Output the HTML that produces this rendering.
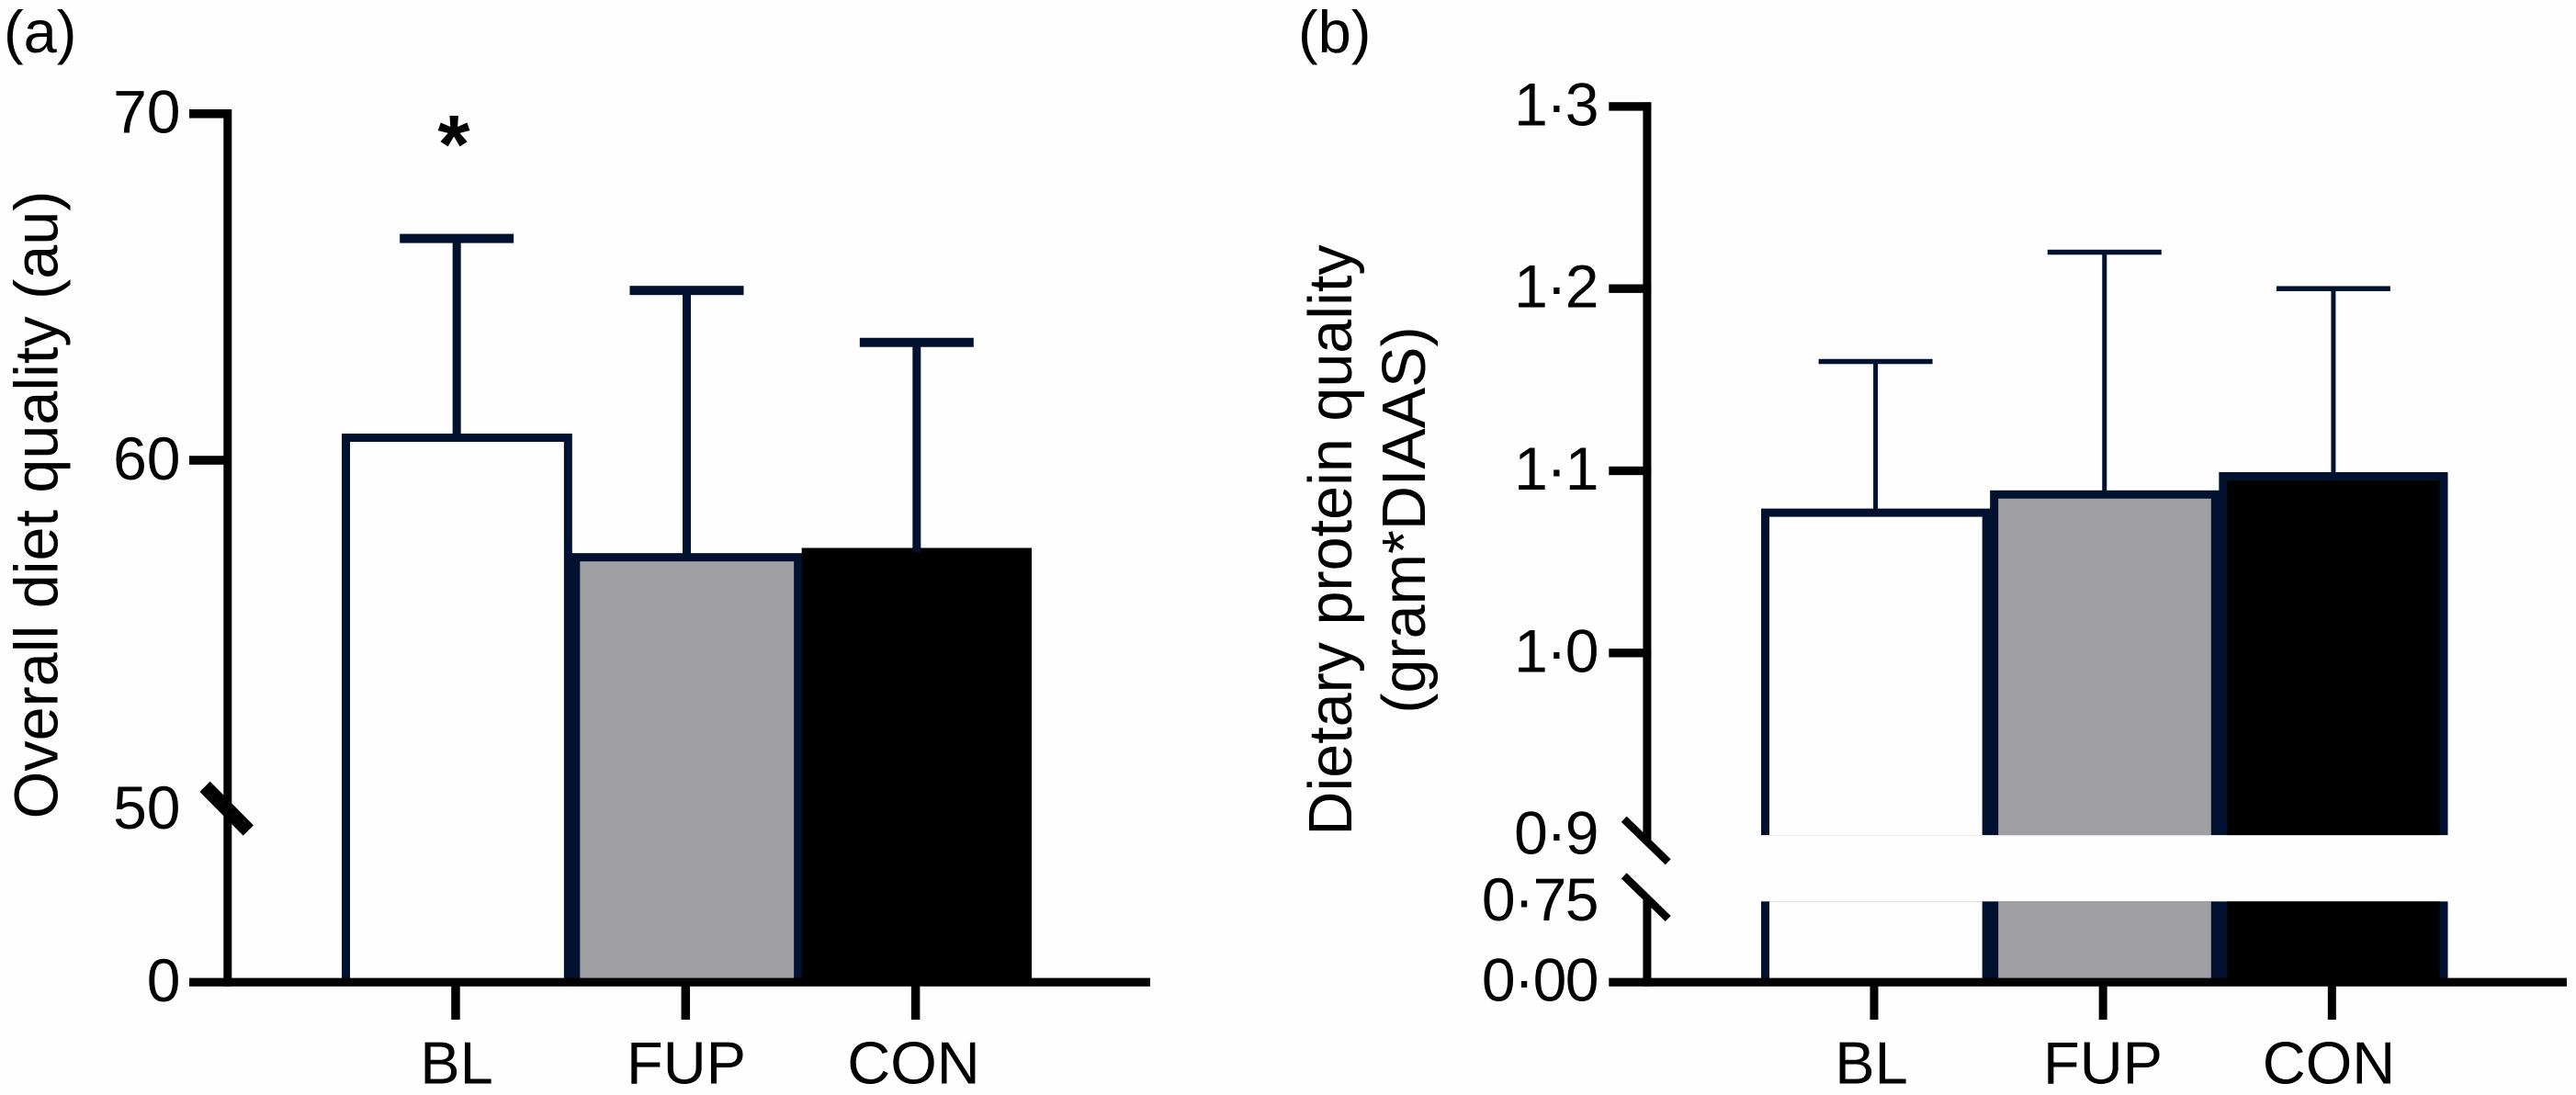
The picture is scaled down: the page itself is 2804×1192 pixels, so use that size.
<!DOCTYPE html>
<html lang="en">
<head>
<meta charset="utf-8">
<title>Diet quality charts</title>
<style>
html,body{margin:0;padding:0;background:#fefefe;}
svg{display:block;}
text{font-family:"Liberation Sans",sans-serif;fill:#000;}
</style>
</head>
<body>
<svg id="chart" xmlns="http://www.w3.org/2000/svg" width="2804" height="1192" viewBox="0 0 2804 1192">
  <rect x="0" y="0" width="2804" height="1192" fill="#fefefe"/>
  <g id="panelA"></g>
  <g id="panelB"></g>
</svg>
<script>
const categories = ['BL', 'FUP', 'CON'];
const aMeans = [60.65, 57.2, 57.35];
const aErrorTops = [66.4, 64.9, 63.4];
const aTickValues = [0, 50, 60, 70];
const aTickLabels = ['0', '50', '60', '70'];
const bMeans = [1.077, 1.087, 1.097];
const bErrorTops = [1.16, 1.22, 1.20];
const bTickValues = [0, 0.75, 0.9, 1.0, 1.1, 1.2, 1.3];
const bTickLabels = ['0\u00B700', '0\u00B775', '0\u00B79', '1\u00B70', '1\u00B71', '1\u00B72', '1\u00B73'];

const NAVY = '#011231';
const GREY = '#a09fa3';
const SVGNS = 'http://www.w3.org/2000/svg';

function yA(v) {
  return v <= 50 ? 1069 - (v / 50) * 188 : 501 - (v - 60) * 37.72;
}
function yB(v) {
  return v <= 0.75 ? 1069 - (v / 0.75) * 87.7 : 710.8 - (v - 1) * 1983;
}
function bandA(i) { return 372 + i * 250.33; }
function bandB(i) { return 1917 + i * 249.17; }
const bandWidthA = 250.33;
const bandWidthB = 249.17;

function make(parent, tag, attrs, text) {
  const el = document.createElementNS(SVGNS, tag);
  for (const k in attrs) el.setAttribute(k, attrs[k]);
  if (text !== undefined) el.textContent = text;
  parent.appendChild(el);
  return el;
}

function drawBar(parent, x, w, top, bottom, fill, border, gap, name) {
  const bw = 9;
  const g = make(parent, 'g', {});
  
  
  if (gap) {
    make(g, 'rect', { x: x, y: top, width: w, height: gap[0] - top, fill: border });
    make(g, 'rect', { x: x + bw, y: top + bw, width: w - 2 * bw, height: gap[0] - top - bw, fill: fill });
    make(g, 'rect', { x: x, y: gap[1], width: w, height: bottom - gap[1], fill: border });
    make(g, 'rect', { x: x + bw, y: gap[1], width: w - 2 * bw, height: bottom - gap[1], fill: fill });
  } else {
    make(g, 'rect', { x: x, y: top, width: w, height: bottom - top, fill: border });
    make(g, 'rect', { x: x + bw, y: top + bw, width: w - 2 * bw, height: bottom - top - bw, fill: fill });
  }
}

function drawError(parent, cx, yTop, yBase, stemW, capH, name) {
  const g = make(parent, 'g', {});
  
  
  make(g, 'rect', { x: cx - stemW / 2, y: yTop, width: stemW, height: yBase - yTop, fill: NAVY });
  make(g, 'rect', { x: cx - 62, y: yTop - capH / 2, width: 124, height: capH, fill: NAVY });
}

function drawXTick(parent, cx, w, label, textX, name) {
  const t = make(parent, 'rect', { x: cx - w / 2, y: 1069, width: w, height: 41, fill: '#000' });
  
  
  const l = make(parent, 'text', { x: textX, y: 1179.5, 'text-anchor': 'middle', 'font-size': 65 }, label);
  
  
}

function drawLine(parent, x1, y1, x2, y2, sw, name) {
  const l = make(parent, 'line', { x1: x1, y1: y1, x2: x2, y2: y2, stroke: '#000', 'stroke-width': sw });
  
  
}

/* ---------- Panel A ---------- */
const pa = document.getElementById('panelA');
const aFills = ['#fefefe', GREY, '#000'];
const aBorders = [NAVY, NAVY, '#000'];
const aLabelX = [497, 747, 994.5];

const aLetter = make(pa, 'text', { x: 4, y: 57, 'font-size': 65 }, '(a)');



categories.forEach(function (c, i) {
  const top = yA(aMeans[i]) - 4.5;
  drawBar(pa, bandA(i), bandWidthA + (i < 2 ? 0.5 : 0), top, 1069, aFills[i], aBorders[i], null, 'panel-a-bar-' + c.toLowerCase());
});
categories.forEach(function (c, i) {
  const cx = bandA(i) + bandWidthA / 2;
  drawError(pa, cx, yA(aErrorTops[i]), yA(aMeans[i]), 9, 10, 'panel-a-error-' + c.toLowerCase());
});

const aAxisY = make(pa, 'rect', { x: 243.3, y: 119, width: 9, height: 954.8, fill: '#000' });


const aAxisX = make(pa, 'rect', { x: 206, y: 1064.6, width: 1046, height: 9.2, fill: '#000' });



aTickValues.forEach(function (v, i) {
  const y = yA(v);
  if (v !== 0 && v !== 50) {
    const t = make(pa, 'rect', { x: 206, y: y - 4.8, width: 46, height: 9.6, fill: '#000' });
    
    
  }
  const l = make(pa, 'text', { x: 196.5, y: y + 20.8, 'text-anchor': 'end', 'font-size': 66 }, aTickLabels[i]);
  
  
});

drawLine(pa, 225.8, 853.5, 273.1, 901.2, 8, 'panel-a-axis-break-upper');
drawLine(pa, 220.2, 859.1, 267.5, 906.8, 8, 'panel-a-axis-break-lower');

categories.forEach(function (c, i) {
  const cx = bandA(i) + bandWidthA / 2 - 1.2;
  drawXTick(pa, cx, 9.5, c, aLabelX[i], 'panel-a-' + c.toLowerCase());
});

const aTitle = make(pa, 'text', { x: 0, y: 0, 'text-anchor': 'middle', 'font-size': 66.5, transform: 'translate(62.5 549.5) rotate(-90)' }, 'Overall diet quality (au)');



const star = make(pa, 'text', { x: 494, y: 188, 'text-anchor': 'middle', 'font-size': 90, 'font-weight': 'bold' }, '*');



/* ---------- Panel B ---------- */
const pb = document.getElementById('panelB');
const bFills = ['#fefefe', GREY, '#000'];
const bLabelX = [2037, 2289, 2535];
const bGap = [yB(0.9), yB(0.75)];

const bLetter = make(pb, 'text', { x: 1413, y: 57, 'font-size': 65 }, '(b)');



categories.forEach(function (c, i) {
  const top = yB(bMeans[i]) - 4.5;
  drawBar(pb, bandB(i), bandWidthB + (i < 2 ? 0.5 : 0), top, 1069, bFills[i], NAVY, bGap, 'panel-b-bar-' + c.toLowerCase());
});
categories.forEach(function (c, i) {
  const cx = bandB(i) + bandWidthB / 2;
  drawError(pb, cx, yB(bErrorTops[i]), yB(bMeans[i]), 5, 5.5, 'panel-b-error-' + c.toLowerCase());
});

const bAxisUpper = make(pb, 'rect', { x: 1788.4, y: 111.4, width: 9, height: bGap[0] + 6 - 111.4, fill: '#000' });


const bAxisLower = make(pb, 'rect', { x: 1788.4, y: bGap[1] - 4, width: 9, height: 1073.8 - bGap[1] + 4, fill: '#000' });


const bAxisX = make(pb, 'rect', { x: 1751.3, y: 1064.6, width: 1042.7, height: 9.2, fill: '#000' });



bTickValues.forEach(function (v, i) {
  const y = yB(v);
  if (v >= 1) {
    const t = make(pb, 'rect', { x: 1751.3, y: y - 4.7, width: 46, height: 9.4, fill: '#000' });
    
    
  }
  const l = make(pb, 'text', { x: 1739, y: y + 20.5, 'text-anchor': 'end', 'font-size': 66, 'letter-spacing': '-1.5px' }, bTickLabels[i]);
  
  
});

drawLine(pb, 1767.7, 891.7, 1815.7, 938.3, 8.5, 'panel-b-axis-break-upper');
drawLine(pb, 1767.7, 953.3, 1815.7, 1000, 8.5, 'panel-b-axis-break-lower');

categories.forEach(function (c, i) {
  const cx = bandB(i) + bandWidthB / 2 - 1.6;
  drawXTick(pb, cx, 9, c, bLabelX[i], 'panel-b-' + c.toLowerCase());
});

const bTitle1 = make(pb, 'text', { x: 0, y: 0, 'text-anchor': 'middle', 'font-size': 66.5, transform: 'translate(1471 588) rotate(-90)' }, 'Dietary protein quality');


const bTitle2 = make(pb, 'text', { x: 0, y: 0, 'text-anchor': 'middle', 'font-size': 66.5, transform: 'translate(1551 566) rotate(-90)' }, '(gram*DIAAS)');


</script>
</body>
</html>
